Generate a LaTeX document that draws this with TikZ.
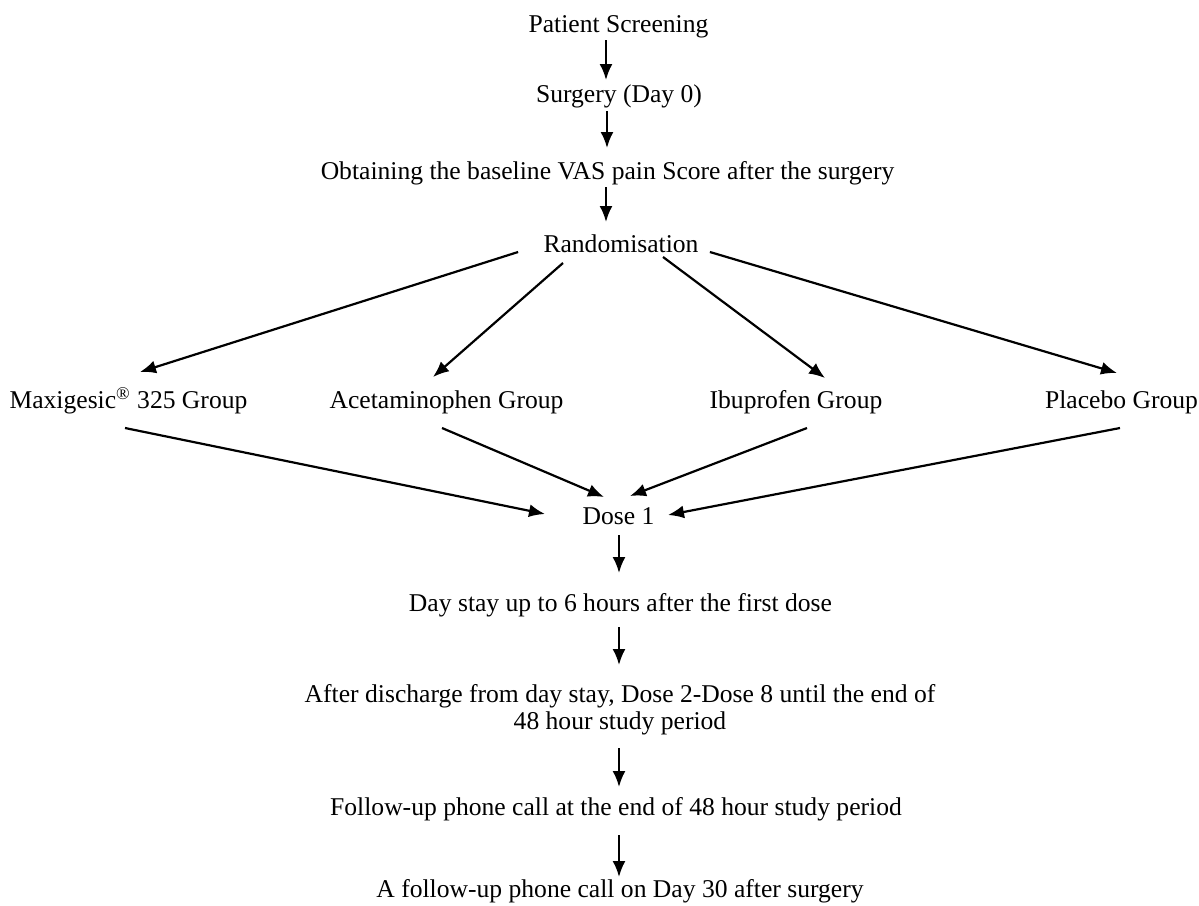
\documentclass[tikz,border=0pt]{standalone}
\usepackage{fontspec}
\setmainfont{Liberation Serif}
\usetikzlibrary{arrows.meta,calc}

\begin{document}
\begin{tikzpicture}[x=0.5pt, y=-0.5pt,
    every node/.style={font=\fontsize{12.8}{13.5}\selectfont, inner sep=2pt},
    lbl/.style={anchor=base},
    arr/.style={-{Latex[length=8pt,width=6.5pt]}, line width=1.1pt}]
    \useasboundingbox (0,0) rectangle (1199,905);

    % steps, top half
    \node[lbl] (ps) at (618.5,32) {Patient Screening};
    \node[lbl] (surg) at (619,102) {Surgery (Day 0)};
    \node[lbl] (obt) at (607.5,179) {Obtaining the baseline VAS pain Score after the surgery};
    \node[lbl] (rand) at (621,252) {Randomisation};

    % the four groups
    \node[lbl] (maxi) at (128.5,408) {Maxigesic\textsuperscript{\textregistered} 325 Group};
    \node[lbl] (acet) at (446.5,408) {Acetaminophen Group};
    \node[lbl] (ibu) at (796,408) {Ibuprofen Group};
    \node[lbl] (plac) at (1121.5,408) {Placebo Group};

    % steps, bottom half
    \node[lbl] (dose) at (618.5,524) {Dose 1};
    \node[lbl] (day) at (620.5,611) {Day stay up to 6 hours after the first dose};
    \node[anchor=north, align=center] (aft) at (620,680) {After discharge from day stay, Dose 2-Dose 8 until the end of\\48 hour study period};
    \node[lbl] (fol) at (616,815) {Follow-up phone call at the end of 48 hour study period};
    \node[lbl] (fin) at (620,897) {A follow-up phone call on Day 30 after surgery};

    \draw[arr] ($(ps.base)+(-12.5,8)$) -- ($(surg.base)+(-13,-22)$);
    \draw[arr] ($(surg.base)+(-12,9)$) -- ($(obt.base)+(-0.5,-31)$);
    \draw[arr] ($(obt.base)+(-1.5,8)$) -- ($(rand.base)+(-15,-30)$);

    \draw[arr] ($(rand.base west)+(-21,0)$) -- ($(maxi.base)+(11.5,-36)$);
    \draw[arr] ($(rand.base)+(-58,11)$) -- ($(acet.base)+(-13.5,-31)$);
    \draw[arr] ($(rand.base)+(42,5)$) -- ($(ibu.base)+(29,-30)$);
    \draw[arr] ($(rand.base east)+(7,0)$) -- ($(plac.base)+(-4.5,-35)$);

    \draw[arr] ($(maxi.base)+(-3.5,20)$) -- ($(dose.base)+(-73.5,-10)$);
    \draw[arr] ($(acet.base)+(-4.5,20)$) -- ($(dose.base)+(-14.5,-27)$);
    \draw[arr] ($(ibu.base)+(11,20)$) -- ($(dose.base)+(11.5,-28)$);
    \draw[arr] ($(plac.base)+(-1.5,20)$) -- ($(dose.base)+(49.5,-9)$);

    \draw[arr] ($(dose.base)+(0.5,11)$) -- ($(day.base)+(-1.5,-38)$);
    \draw[arr] ($(day.base)+(-1.5,16)$) -- ($(aft.north)+(-1,-15)$);
    \draw[arr] ($(aft.south)+(-1,9)$) -- ($(fol.base)+(3,-28)$);
    \draw[arr] ($(fol.base)+(3,20)$) -- ($(fin.base)+(-1,-20)$);
\end{tikzpicture}
\end{document}
